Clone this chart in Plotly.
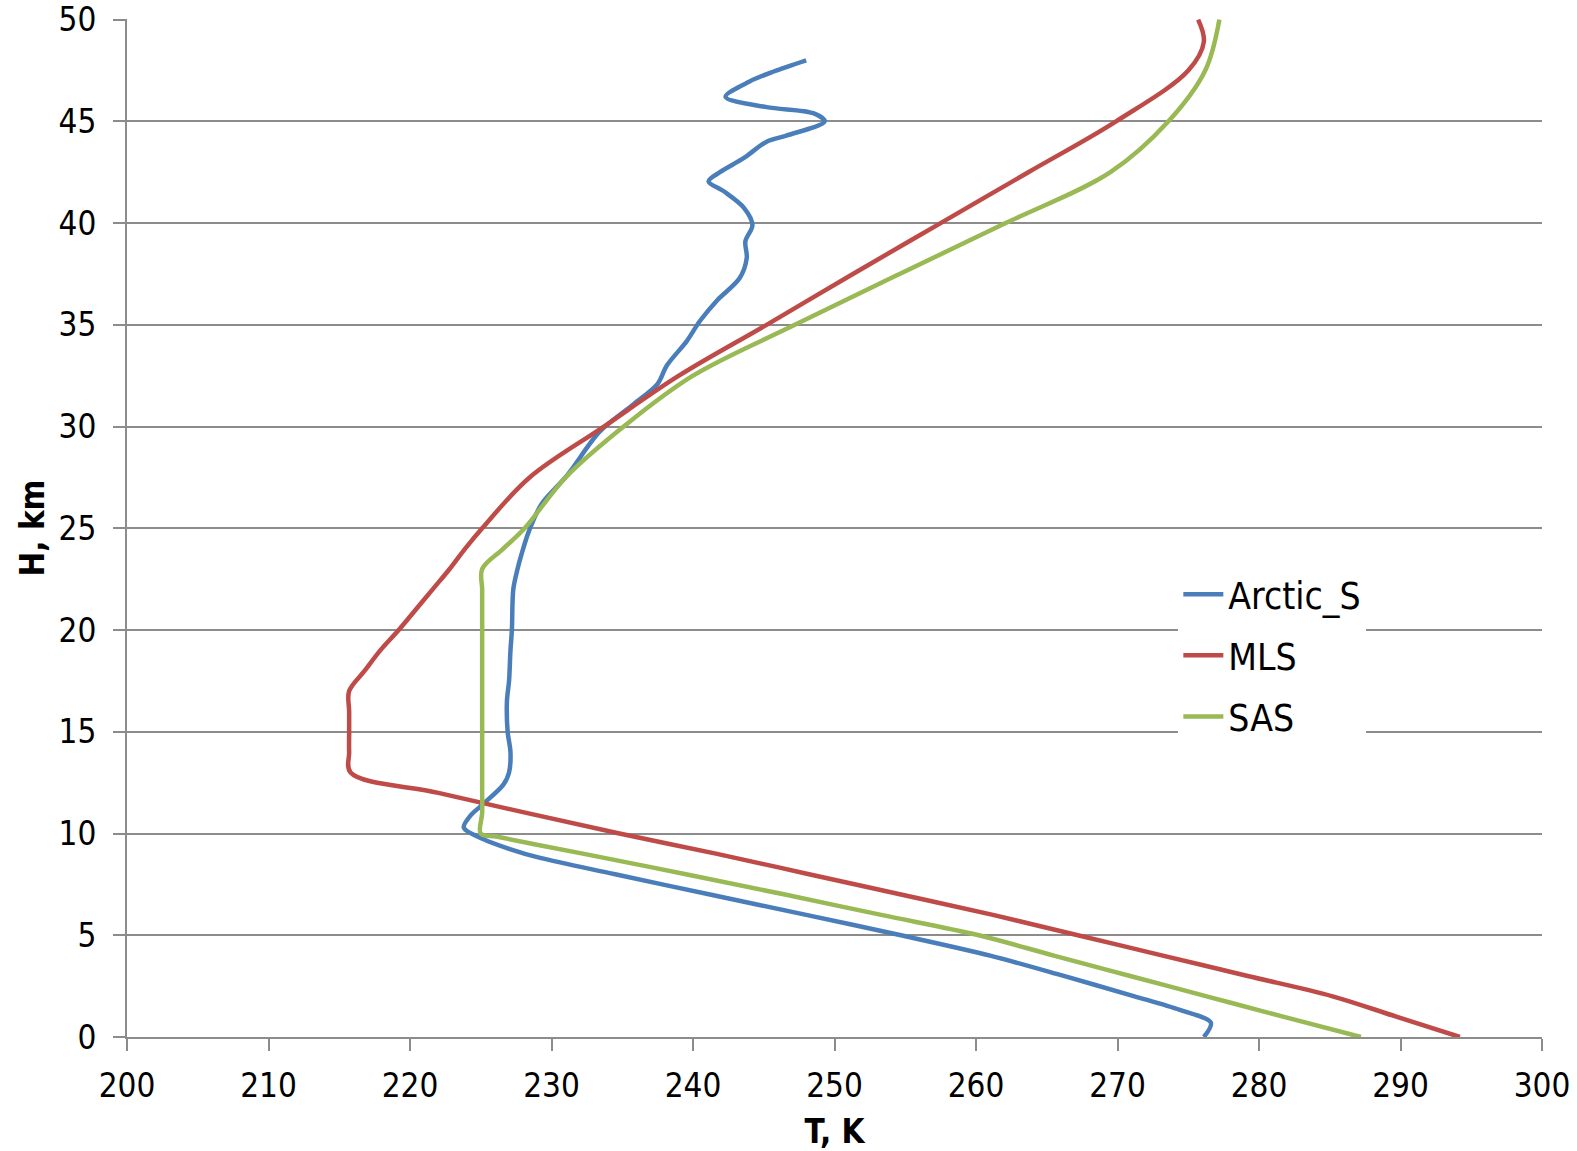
import plotly.graph_objects as go

# ---- data ----
H_arctic = [0, 0.7, 1.33, 2, 3, 4, 5, 6, 7, 8, 8.8, 9.25, 9.72, 10.29, 10.9, 11.35, 12.4,
            13, 14, 15, 16.5, 17.5, 19, 20, 22, 23, 24, 24.85, 26.2, 27.6, 29.75, 31.1, 32.1,
            33.0, 34.2, 35.2, 36.2, 37.3, 38.3, 39.1, 39.9, 40.75, 41.55, 42.05, 42.5, 43.2,
            44.0, 44.3, 45.0, 45.4, 45.7, 46.2, 46.96, 47.45, 48.0]
T_arctic = [276.1, 276.6, 274.4, 271.2, 266.2, 261.0, 254.7, 248.0, 241.2, 234.5, 229.2, 227.0,
            225.2, 223.8, 224.3, 225.0, 226.6, 227.0, 227.1, 226.9, 226.85, 227.0, 227.1,
            227.2, 227.3, 227.6, 228.0, 228.4, 229.3, 231.1, 233.4, 235.8, 237.5, 238.15, 239.56,
            240.5, 241.7, 243.3, 243.8, 243.7, 244.2, 243.6, 242.2, 241.1, 241.9, 243.6, 245.2,
            246.6, 249.3, 248.5, 245.2, 242.3, 244.0, 245.7, 248.0]

H_mls = [0, 1, 2, 3, 4, 5, 6, 7, 8, 9, 10, 11, 12, 13, 14, 15, 16, 17, 18, 19, 20, 21, 22, 23,
         24, 25, 27.5, 30, 32.5, 35, 37.5, 40, 42.5, 45, 47.5, 48.9, 50]
T_mls = [294.2, 289.7, 285.2, 279.2, 273.2, 267.2, 261.2, 254.7, 248.2, 241.7, 234.8, 228.3,
         222.0, 215.8, 215.7, 215.7, 215.7, 215.7, 216.8, 217.9, 219.2, 220.4, 221.6, 222.8,
         223.9, 225.1, 228.45, 233.7, 239.0, 245.2, 251.3, 257.5, 263.7, 269.9, 275.0, 276.1,
         275.7]

H_sas = [0, 1, 2, 3, 4, 5, 6, 7, 8, 9, 9.5, 9.85, 10, 11, 12, 13, 14, 15, 16, 17, 18, 19, 20,
         21, 22, 23, 24, 25, 27.5, 30, 32.5, 35, 37.5, 40, 42.5, 45, 47.5, 50]
T_sas = [287.2, 281.7, 276.3, 270.9, 265.5, 260.2, 253.3, 246.5, 239.5, 232.3, 228.6, 226.1,
         225.0, 225.1, 225.1, 225.1, 225.1, 225.1, 225.1, 225.1, 225.1, 225.1, 225.1, 225.1,
         225.1, 225.1, 226.6, 228.1, 231.0, 235.1, 240.0, 247.2, 254.6, 262.1, 269.5, 273.6,
         276.2, 277.2]

series = [
    ("Arctic_S", T_arctic, H_arctic, "#4A7EBB", 0.9),
    ("MLS", T_mls, H_mls, "#BE4B48", 1.0),
    ("SAS", T_sas, H_sas, "#98B954", 1.0),
]

FONT = "DejaVu Sans Condensed, Liberation Sans, sans-serif"
GRID = "#8c8c8c"

fig = go.Figure()
for i, (name, t, h, col, sm) in enumerate(series):
    fig.add_trace(go.Scatter(
        x=t, y=h, name=name, mode="lines", legendgroup=str(i),
        line=dict(color=col, width=4.5, shape="spline", smoothing=sm),
    ))

tickfont = dict(family=FONT, size=33, color="black")

fig.update_layout(
    width=1577, height=1151,
    margin=dict(l=127, r=35, t=19, b=114, autoexpand=False),
    paper_bgcolor="white", plot_bgcolor="white",
    font=dict(family=FONT, size=33, color="black"),
    showlegend=True,
    legend=dict(
        x=0.743, y=0.465, xanchor="left", yanchor="top",
        bgcolor="white", borderwidth=0,
        font=dict(family=FONT, size=37, color="black"),
        traceorder="grouped", tracegroupgap=10,
        itemwidth=40,
    ),
    xaxis=dict(
        range=[200, 300], dtick=10, tick0=200,
        showgrid=False, zeroline=False, automargin=False,
        showline=True, linecolor=GRID, linewidth=2,
        ticks="outside", ticklen=12, tickcolor=GRID, tickwidth=2,
        tickfont=tickfont, ticklabeloverflow="allow", ticklabelstandoff=6,
        title=dict(text="<b>T, K</b>", font=dict(family=FONT, size=33, color="black"), standoff=16),
    ),
    yaxis=dict(
        range=[0, 50.03], dtick=5, tick0=0,
        showgrid=True, gridcolor=GRID, gridwidth=2,
        zeroline=False, automargin=False,
        showline=True, linecolor=GRID, linewidth=2,
        ticks="outside", ticklen=12, tickcolor=GRID, tickwidth=2,
        tickfont=tickfont, ticklabeloverflow="allow", ticklabelstandoff=10,
        title=dict(text="<b>H, km</b>", font=dict(family=FONT, size=33, color="black"), standoff=4),
    ),
)

# remove the default 8px page margin so the figure fills the window exactly
fig.write_html("out.html", config={"displayModeBar": False},
               post_script="document.body.style.margin='0';")
